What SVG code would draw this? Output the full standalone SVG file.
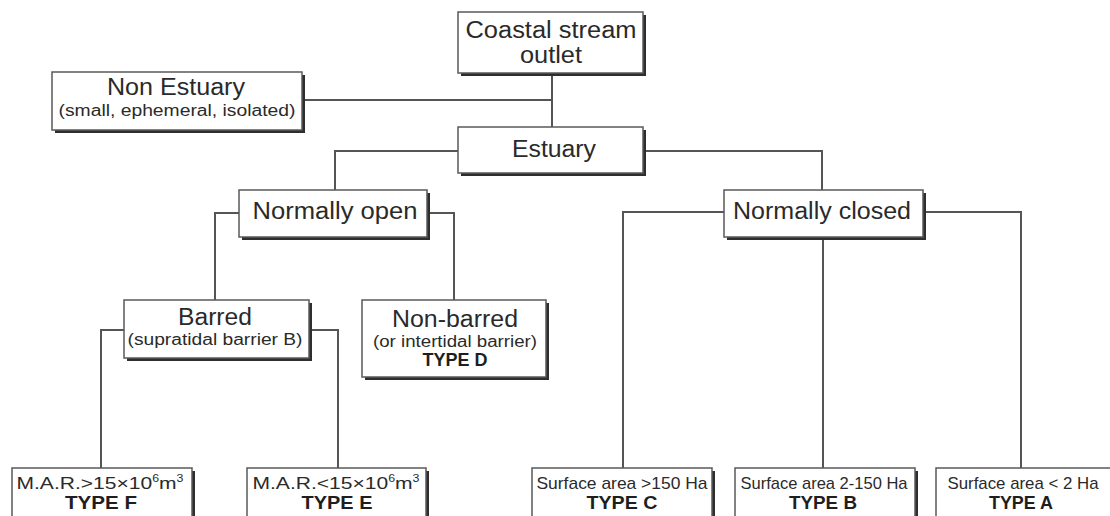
<svg xmlns="http://www.w3.org/2000/svg" width="1110" height="516" viewBox="0 0 1110 516">
<style>
.bg{fill:#ffffff}
.shadow{fill:#2e2e2e}
.box{fill:#ffffff;stroke:#5a5a5a;stroke-width:1.5}
.conn{fill:none;stroke:#555555;stroke-width:2}
text{font-family:"Liberation Sans",Arial,sans-serif;fill:#2a2a2a;text-anchor:middle}
.main{font-size:23px}
.sub{font-size:16px}
.small{font-size:17px}
.type{font-size:18px;font-weight:bold;fill:#1e1e1e}
.sup{font-size:10px}
</style>
<rect class="bg" x="0" y="0" width="1110" height="516"/>

<g id="connectors">
<path class="conn" d="M552,73 V127"/>
<path class="conn" d="M302,100 H552"/>
<path class="conn" d="M458,151 H335 V190"/>
<path class="conn" d="M643,151 H822 V190"/>
<path class="conn" d="M239,213 H215 V300"/>
<path class="conn" d="M427,213 H454 V300"/>
<path class="conn" d="M124,330 H101 V468"/>
<path class="conn" d="M309,330 H338 V468"/>
<path class="conn" d="M724,212 H623 V468"/>
<path class="conn" d="M823,237 V468"/>
<path class="conn" d="M923,212 H1021 V468"/>
</g>

<g id="coastal">
<rect class="shadow" x="461" y="15" width="185" height="61"/>
<rect class="box" x="458" y="12" width="185" height="61"/>
<text class="main" x="551" y="38" textLength="171" lengthAdjust="spacingAndGlyphs">Coastal stream</text>
<text class="main" x="551" y="63" textLength="62" lengthAdjust="spacingAndGlyphs">outlet</text>
</g>

<g id="non-estuary">
<rect class="shadow" x="55" y="75" width="250" height="58"/>
<rect class="box" x="52" y="72" width="250" height="58"/>
<text class="main" x="176" y="95" textLength="138" lengthAdjust="spacingAndGlyphs">Non Estuary</text>
<text class="sub" x="177" y="116" textLength="237" lengthAdjust="spacingAndGlyphs">(small, ephemeral, isolated)</text>
</g>

<g id="estuary">
<rect class="shadow" x="461" y="130" width="185" height="46"/>
<rect class="box" x="458" y="127" width="185" height="46"/>
<text class="main" x="554" y="157" textLength="84" lengthAdjust="spacingAndGlyphs">Estuary</text>
</g>

<g id="normally-open">
<rect class="shadow" x="242" y="193" width="188" height="47"/>
<rect class="box" x="239" y="190" width="188" height="47"/>
<text class="main" x="335" y="219" textLength="165" lengthAdjust="spacingAndGlyphs">Normally open</text>
</g>

<g id="normally-closed">
<rect class="shadow" x="727" y="193" width="199" height="47"/>
<rect class="box" x="724" y="190" width="199" height="47"/>
<text class="main" x="822" y="219" textLength="178" lengthAdjust="spacingAndGlyphs">Normally closed</text>
</g>

<g id="barred">
<rect class="shadow" x="127" y="303" width="185" height="58"/>
<rect class="box" x="124" y="300" width="185" height="58"/>
<text class="main" x="215" y="325" textLength="74" lengthAdjust="spacingAndGlyphs">Barred</text>
<text class="sub" x="215" y="345" textLength="175" lengthAdjust="spacingAndGlyphs">(supratidal barrier B)</text>
</g>

<g id="non-barred">
<rect class="shadow" x="365" y="303" width="184" height="77"/>
<rect class="box" x="362" y="300" width="184" height="77"/>
<text class="main" x="455" y="327" textLength="126" lengthAdjust="spacingAndGlyphs">Non-barred</text>
<text class="sub" x="455" y="347" textLength="164" lengthAdjust="spacingAndGlyphs">(or intertidal barrier)</text>
<text class="type" x="455" y="366" textLength="65" lengthAdjust="spacingAndGlyphs">TYPE D</text>
</g>

<g id="type-f">
<rect class="shadow" x="15" y="471" width="180" height="60"/>
<rect class="box" x="12" y="468" width="180" height="60"/>
<text class="small" x="100" y="489" textLength="167" lengthAdjust="spacingAndGlyphs">M.A.R.&gt;15×10<tspan class="sup" dy="-7">6</tspan><tspan dy="7">m</tspan><tspan class="sup" dy="-7">3</tspan></text>
<text class="type" x="101" y="509" textLength="72" lengthAdjust="spacingAndGlyphs">TYPE F</text>
</g>

<g id="type-e">
<rect class="shadow" x="250" y="471" width="179" height="60"/>
<rect class="box" x="247" y="468" width="179" height="60"/>
<text class="small" x="336" y="489" textLength="167" lengthAdjust="spacingAndGlyphs">M.A.R.&lt;15×10<tspan class="sup" dy="-7">6</tspan><tspan dy="7">m</tspan><tspan class="sup" dy="-7">3</tspan></text>
<text class="type" x="337" y="509" textLength="71" lengthAdjust="spacingAndGlyphs">TYPE E</text>
</g>

<g id="type-c">
<rect class="shadow" x="535" y="471" width="180" height="60"/>
<rect class="box" x="532" y="468" width="180" height="60"/>
<text class="small" x="622" y="489" textLength="171" lengthAdjust="spacingAndGlyphs">Surface area &gt;150 Ha</text>
<text class="type" x="622" y="509" textLength="71" lengthAdjust="spacingAndGlyphs">TYPE C</text>
</g>

<g id="type-b">
<rect class="shadow" x="738" y="471" width="180" height="60"/>
<rect class="box" x="735" y="468" width="180" height="60"/>
<text class="small" x="824" y="489" textLength="167" lengthAdjust="spacingAndGlyphs">Surface area 2-150 Ha</text>
<text class="type" x="823" y="509" textLength="68" lengthAdjust="spacingAndGlyphs">TYPE B</text>
</g>

<g id="type-a">
<rect class="shadow" x="939" y="471" width="180" height="60"/>
<rect class="box" x="936" y="468" width="180" height="60"/>
<text class="small" x="1023" y="489" textLength="151" lengthAdjust="spacingAndGlyphs">Surface area &lt; 2 Ha</text>
<text class="type" x="1021" y="509" textLength="64" lengthAdjust="spacingAndGlyphs">TYPE A</text>
</g>
</svg>
